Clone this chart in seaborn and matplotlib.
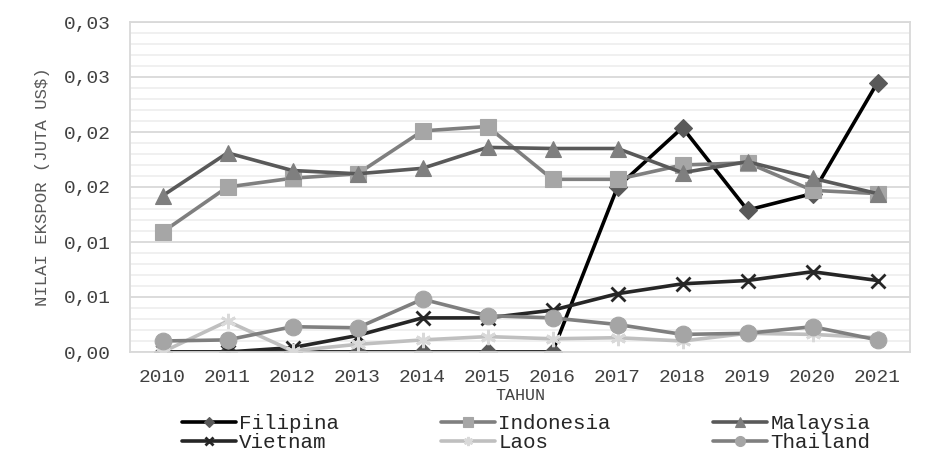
import math
import pandas as pd
import matplotlib
matplotlib.use("Agg")
import matplotlib.pyplot as plt
from matplotlib.ticker import MultipleLocator, FuncFormatter
import seaborn as sns

# Tahun dan nilai ekspor (juta US$) per negara
YEARS = [2010, 2011, 2012, 2013, 2014, 2015, 2016, 2017, 2018, 2019, 2020, 2021]
FILIPINA = [0.0, 0.0, 0.0, 0.0, 0.0, 0.0, 0.0, 0.0150, 0.0204, 0.0129, 0.0144, 0.0245]
INDONESIA = [0.0109, 0.0150, 0.0158, 0.0162, 0.0201, 0.0205, 0.0157, 0.0157, 0.0170, 0.0172, 0.0147, 0.0144]
MALAYSIA = [0.0142, 0.0181, 0.0165, 0.0162, 0.0167, 0.0186, 0.0185, 0.0185, 0.0163, 0.0173, 0.0158, 0.0144]
VIETNAM = [0.0, 0.0, 0.0004, 0.0015, 0.0031, 0.0031, 0.0038, 0.0053, 0.0062, 0.0065, 0.0073, 0.0065]
LAOS = [0.0, 0.0028, 0.0001, 0.0007, 0.0011, 0.0014, 0.0012, 0.0013, 0.0010, 0.0017, 0.0016, 0.0013]
THAILAND = [0.0010, 0.0011, 0.0023, 0.0022, 0.0048, 0.0033, 0.0031, 0.0025, 0.0016, 0.0017, 0.0023, 0.0011]

SERIES = {
    "Filipina": FILIPINA,
    "Indonesia": INDONESIA,
    "Malaysia": MALAYSIA,
    "Vietnam": VIETNAM,
    "Laos": LAOS,
    "Thailand": THAILAND,
}

# line colour, marker, marker face colour, marker size
STYLES = {
    "Filipina": ("#000000", "D", "#595959", 9),
    "Indonesia": ("#7f7f7f", "s", "#a6a6a6", 11),
    "Malaysia": ("#595959", "^", "#7f7f7f", 11),
    "Vietnam": ("#262626", "x", "#262626", 10),
    "Laos": ("#bfbfbf", (6, 2, 0), "#d9d9d9", 11),
    "Thailand": ("#7f7f7f", "o", "#a5a5a5", 12),
}

sns.set_style("white")
plt.rcParams["font.family"] = ["Liberation Mono", "DejaVu Sans Mono"]

fig = plt.figure(figsize=(9.25, 4.54), dpi=100)
ax = fig.add_axes([130 / 925, 1 - 352 / 454, 780 / 925, 330 / 454])

# minor + major grid first
ax.set_ylim(0, 0.03)
ax.set_xlim(YEARS[0] - 0.5, YEARS[-1] + 0.5)
ax.yaxis.set_major_locator(MultipleLocator(0.005))
ax.yaxis.set_minor_locator(MultipleLocator(0.001))
ax.grid(which="major", axis="y", color="#d9d9d9", lw=1.3)
ax.grid(which="minor", axis="y", color="#efefef", lw=1.3)
ax.set_axisbelow(True)

for name, vals in SERIES.items():
    lc, mk, mfc, ms = STYLES[name]
    df = pd.DataFrame({"Tahun": YEARS, "Nilai": vals})
    mew = 2 if mk in ("x", (6, 2, 0)) else 0.8
    sns.lineplot(data=df, x="Tahun", y="Nilai", ax=ax, color=lc, lw=2.6,
                 marker=mk, markersize=ms, markerfacecolor=mfc,
                 markeredgecolor=mfc, markeredgewidth=mew, label=name)

def fmt(v, pos):
    r = math.floor(v * 100 + 0.5 + 1e-9) / 100
    return f"{r:.2f}".replace(".", ",")

ax.yaxis.set_major_formatter(FuncFormatter(fmt))
ax.set_xticks(YEARS)
ax.set_xticklabels([str(y) for y in YEARS])
ax.tick_params(axis="both", length=0, labelsize=14, labelcolor="#404040")
ax.tick_params(axis="y", pad=14)
ax.tick_params(axis="x", pad=12)

for s in ax.spines.values():
    s.set_color("#d9d9d9")
    s.set_linewidth(1.3)

ax.set_xlabel("TAHUN", fontsize=12, color="#404040", labelpad=2)
ax.set_ylabel("NILAI EKSPOR (JUTA US$)", fontsize=12.5, color="#595959", labelpad=10)

ax.get_legend().remove()
handles, labels = ax.get_legend_handles_labels()
# legend fills column by column: reorder so rows read Filipina/Indonesia/Malaysia
order = [0, 3, 1, 4, 2, 5]
fig.legend([handles[i] for i in order], [labels[i] for i in order], ncol=3,
           loc="upper center", bbox_to_anchor=(526 / 925, 1 - 404 / 454),
           frameon=False, fontsize=15, handlelength=2.6, handletextpad=0.15,
           columnspacing=4.9, labelspacing=0.0, borderpad=0, markerscale=0.6)

plt.savefig("out.png", dpi=100)
